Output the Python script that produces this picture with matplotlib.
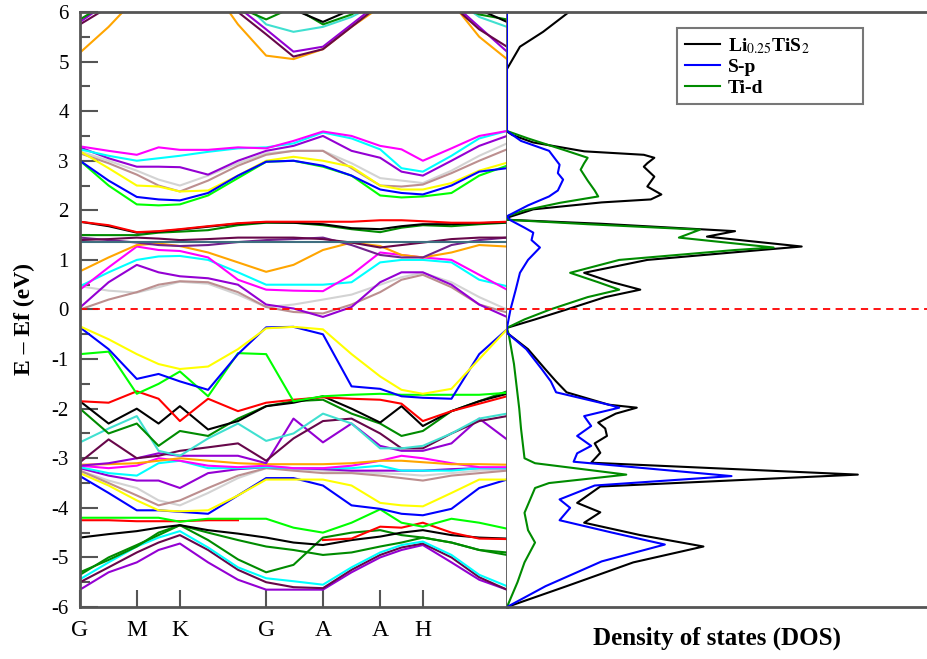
import numpy as np
import matplotlib
matplotlib.use("Agg")
import matplotlib.pyplot as plt

plt.rcParams['font.family'] = ['Liberation Serif', 'DejaVu Serif']
plt.rcParams['mathtext.fontset'] = 'stix'

# k-path sample positions (fraction of path) and high-symmetry labels
kpath = [0.0, 0.067, 0.133, 0.184, 0.234, 0.30, 0.37, 0.436, 0.50, 0.569,
         0.636, 0.703, 0.753, 0.803, 0.87, 0.935, 1.0]
hs_pos = [0.0, 0.133, 0.234, 0.436, 0.569, 0.703, 0.803]
hs_lab = ['G', 'M', 'K', 'G', 'A', 'A', 'H']

# upper conduction bands
up_orange = [5.18, 5.7, 6.3, 6.6, 6.8, 6.6, 5.75, 5.12, 5.05, 5.25, 5.7, 6.1, 6.5, 6.7, 6.2, 5.5, 5.05]
up_violet = [5.8, 6.2, 6.5, 6.8, 6.8, 6.5, 6.1, 5.65, 5.2, 5.3, 5.75, 6.2, 6.6, 6.7, 6.2, 5.7, 5.2]
up_maroon = [5.75, 6.1, 6.4, 6.7, 6.7, 6.4, 6.0, 5.55, 5.1, 5.25, 5.7, 6.15, 6.5, 6.6, 6.15, 5.65, 5.3]
up_turq = [6.2, 6.5, 6.8, 7.0, 7.0, 6.8, 6.3, 5.75, 5.6, 5.7, 5.9, 6.2, 6.6, 6.7, 6.3, 5.9, 5.7]
up_dkgreen = [5.85, 6.2, 6.5, 6.8, 6.8, 6.5, 6.1, 5.85, 6.1, 5.75, 5.95, 6.3, 6.6, 6.7, 6.2, 5.95, 5.85]
up_black = [6.3, 6.6, 6.9, 7.0, 7.0, 6.9, 6.6, 6.3, 6.05, 5.8, 6.05, 6.4, 6.7, 6.8, 6.4, 6.05, 5.8]

# conduction bands 2-3.6 eV
cb_magenta = [3.29, 3.2, 3.12, 3.27, 3.22, 3.22, 3.27, 3.25, 3.4, 3.59, 3.5, 3.3, 3.23, 3.0, 3.25, 3.5, 3.6]
cb_cyan = [3.23, 3.1, 3.0, 3.05, 3.1, 3.18, 3.25, 3.27, 3.35, 3.57, 3.45, 3.23, 2.85, 2.78, 3.1, 3.45, 3.6]
cb_violet = [3.27, 3.05, 2.88, 2.88, 2.87, 2.72, 3.0, 3.2, 3.3, 3.5, 3.2, 3.06, 2.78, 2.7, 3.0, 3.3, 3.5]
cb_grey = [3.19, 3.0, 2.8, 2.62, 2.5, 2.7, 2.95, 3.15, 3.2, 3.2, 2.95, 2.65, 2.6, 2.55, 2.8, 3.1, 3.35]
cb_brown = [3.15, 2.95, 2.72, 2.5, 2.38, 2.6, 2.9, 3.12, 3.2, 3.2, 2.85, 2.5, 2.48, 2.52, 2.75, 3.0, 3.23]
cb_yellow = [3.19, 2.85, 2.5, 2.48, 2.38, 2.4, 2.7, 3.0, 3.08, 3.0, 2.88, 2.5, 2.42, 2.42, 2.55, 2.8, 2.96]
cb_blue = [3.0, 2.6, 2.27, 2.22, 2.2, 2.35, 2.7, 2.98, 3.0, 2.9, 2.7, 2.42, 2.35, 2.32, 2.5, 2.78, 2.85]
cb_green = [3.0, 2.5, 2.12, 2.1, 2.12, 2.3, 2.65, 2.98, 3.0, 2.88, 2.7, 2.3, 2.26, 2.28, 2.35, 2.7, 2.9]

# bands around 0-1.8 eV
mb_red = [1.77, 1.7, 1.56, 1.58, 1.62, 1.68, 1.74, 1.77, 1.77, 1.77, 1.77, 1.8, 1.8, 1.78, 1.75, 1.75, 1.77]
mb_black = [1.77, 1.68, 1.55, 1.57, 1.61, 1.67, 1.73, 1.76, 1.75, 1.72, 1.64, 1.62, 1.68, 1.72, 1.72, 1.74, 1.76]
mb_dkgreen = [1.5, 1.5, 1.5, 1.55, 1.57, 1.6, 1.7, 1.75, 1.75, 1.7, 1.62, 1.56, 1.65, 1.7, 1.68, 1.72, 1.75]
mb_slate = [1.37] * 17
mb_maroon = [1.4, 1.42, 1.45, 1.43, 1.4, 1.42, 1.45, 1.45, 1.45, 1.42, 1.35, 1.25, 1.3, 1.35, 1.42, 1.45, 1.45]
mb_indigo = [1.45, 1.4, 1.35, 1.3, 1.28, 1.3, 1.36, 1.4, 1.42, 1.45, 1.3, 1.1, 1.05, 1.05, 1.3, 1.4, 1.45]
mb_orange = [0.77, 1.05, 1.3, 1.33, 1.28, 1.15, 0.95, 0.76, 0.9, 1.2, 1.35, 1.28, 1.1, 1.05, 1.15, 1.3, 1.27]
mb_magenta = [0.4, 0.85, 1.27, 1.2, 1.18, 1.05, 0.6, 0.4, 0.38, 0.37, 0.7, 1.15, 1.1, 1.05, 1.0, 0.7, 0.4]
mb_cyan = [0.47, 0.75, 1.0, 1.07, 1.08, 1.0, 0.75, 0.5, 0.5, 0.5, 0.55, 0.95, 1.0, 1.0, 0.95, 0.6, 0.47]
mb_violet = [0.04, 0.55, 0.9, 0.75, 0.67, 0.63, 0.5, 0.1, 0.02, -0.15, 0.05, 0.55, 0.75, 0.75, 0.5, 0.1, -0.15]
mb_brown = [0.0, 0.2, 0.35, 0.5, 0.57, 0.55, 0.35, 0.05, -0.05, -0.08, 0.1, 0.35, 0.6, 0.7, 0.45, 0.1, -0.06]
mb_grey = [0.47, 0.38, 0.34, 0.45, 0.56, 0.52, 0.3, 0.05, 0.1, 0.2, 0.3, 0.5, 0.65, 0.74, 0.55, 0.25, 0.0]

# valence bands
vb_yellow = [-0.34, -0.6, -0.9, -1.1, -1.2, -1.15, -0.8, -0.38, -0.35, -0.4, -0.9, -1.35, -1.62, -1.7, -1.6, -1.0, -0.4]
vb_blue = [-0.36, -0.8, -1.4, -1.3, -1.45, -1.62, -0.9, -0.36, -0.35, -0.5, -1.55, -1.6, -1.75, -1.78, -1.8, -0.9, -0.4]
vb_green = [-0.9, -0.85, -1.7, -1.5, -1.25, -1.75, -0.88, -0.9, -1.85, -1.75, -1.72, -1.7, -1.72, -1.72, -1.72, -1.72, -1.68]
vb_red = [-1.85, -1.88, -1.65, -1.8, -2.25, -1.8, -2.05, -1.88, -1.82, -1.77, -1.8, -1.82, -1.9, -2.25, -2.05, -1.9, -1.75]
vb_black = [-1.85, -2.3, -2.0, -2.3, -1.95, -2.42, -2.25, -1.95, -1.88, -1.75, -2.0, -2.28, -1.95, -2.35, -2.05, -1.85, -1.7]
vb_dkgreen = [-2.0, -2.5, -2.3, -2.75, -2.45, -2.55, -2.2, -1.95, -1.85, -1.82, -2.1, -2.3, -2.55, -2.45, -2.05, -1.85, -1.65]
vb_cyan = [-2.68, -2.4, -2.15, -2.85, -2.95, -2.6, -2.3, -2.65, -2.5, -2.1, -2.3, -2.8, -2.8, -2.75, -2.5, -2.2, -2.1]
vb_maroon = [-3.08, -2.62, -3.0, -2.95, -2.85, -2.78, -2.7, -3.05, -2.6, -2.25, -2.2, -2.5, -2.8, -2.8, -2.5, -2.25, -2.15]
vb_violet = [-3.15, -3.1, -3.0, -2.9, -2.95, -2.95, -2.95, -3.1, -2.2, -2.68, -2.3, -2.75, -2.85, -2.85, -2.7, -2.2, -2.62]
vb_orange = [-3.13, -3.12, -3.1, -3.05, -3.0, -3.05, -3.1, -3.12, -3.12, -3.12, -3.1, -3.05, -3.05, -3.08, -3.12, -3.12, -3.13]
vb_magenta = [-3.15, -3.2, -3.15, -3.0, -3.05, -3.15, -3.18, -3.15, -3.2, -3.2, -3.15, -3.05, -2.95, -3.0, -3.1, -3.18, -3.18]
vb_cyan2 = [-3.18, -3.3, -3.35, -3.1, -3.05, -3.2, -3.2, -3.18, -3.2, -3.2, -3.2, -3.15, -3.25, -3.25, -3.25, -3.2, -3.2]
vb_brown = [-3.25, -3.5, -3.75, -3.95, -3.85, -3.6, -3.35, -3.2, -3.25, -3.3, -3.3, -3.35, -3.4, -3.45, -3.35, -3.3, -3.25]
vb_grey = [-3.25, -3.45, -3.6, -3.85, -3.95, -3.7, -3.4, -3.2, -3.22, -3.25, -3.28, -3.3, -3.32, -3.35, -3.3, -3.25, -3.22]
vb_violet2 = [-3.2, -3.35, -3.45, -3.45, -3.6, -3.3, -3.22, -3.18, -3.2, -3.22, -3.25, -3.25, -3.25, -3.25, -3.22, -3.2, -3.2]
vb_yellow2 = [-3.3, -3.55, -3.85, -4.05, -4.07, -4.05, -3.75, -3.43, -3.43, -3.43, -3.55, -3.9, -3.95, -3.97, -3.7, -3.43, -3.43]
vb_blue2 = [-3.36, -3.7, -4.05, -4.05, -4.08, -4.12, -3.75, -3.4, -3.4, -3.55, -3.95, -4.02, -4.12, -4.15, -4.02, -3.6, -3.43]
vb_green2 = [-4.2, -4.2, -4.2, -4.2, -4.28, -4.22, -4.22, -4.22, -4.4, -4.5, -4.3, -4.03, -4.3, -4.38, -4.22, -4.3, -4.42]
vb_red2 = [-4.25, -4.25, -4.27, -4.27, -4.27, -4.25, -4.25, np.nan, np.nan, -4.65, -4.62, -4.38, -4.4, -4.3, -4.5, -4.62, -4.63]
vb_black2 = [-4.6, -4.53, -4.47, -4.4, -4.35, -4.45, -4.52, -4.6, -4.7, -4.75, -4.65, -4.58, -4.5, -4.45, -4.55, -4.6, -4.62]
vb_dkgreen2 = [-5.3, -5.05, -4.78, -4.5, -4.35, -4.65, -5.04, -5.3, -5.15, -4.6, -4.5, -4.45, -4.55, -4.6, -4.7, -4.85, -4.9]
vb_dkgreen3 = [-5.35, -5.0, -4.75, -4.55, -4.35, -4.5, -4.65, -4.78, -4.85, -4.95, -4.9, -4.78, -4.7, -4.6, -4.7, -4.85, -4.95]
vb_cyan3 = [-5.44, -5.1, -4.78, -4.6, -4.47, -4.8, -5.2, -5.42, -5.48, -5.55, -5.2, -4.9, -4.75, -4.68, -4.95, -5.35, -5.58]
vb_maroon2 = [-5.5, -5.2, -4.9, -4.7, -4.55, -4.85, -5.25, -5.5, -5.6, -5.62, -5.25, -4.95, -4.8, -4.72, -5.0, -5.4, -5.65]
vb_violet3 = [-5.65, -5.3, -5.1, -4.85, -4.72, -5.1, -5.45, -5.65, -5.65, -5.65, -5.3, -5.0, -4.85, -4.75, -5.1, -5.45, -5.65]

# DOS curves: energy (eV) and DOS value (arb. units)
tot_e = [6.05, 5.6, 5.3, 4.85, 3.59, 3.52, 3.37, 3.19, 3.12, 3.06, 2.95, 2.88, 2.68, 2.48, 2.32, 2.22, 2.16,
         2.02, 1.85, 1.81, 1.73, 1.58, 1.47, 1.27, 1.21, 1.0, 0.74, 0.55, 0.40, 0.25, 0.0, -0.2, -0.37,
         -0.47, -0.8, -1.21, -1.45, -1.67, -1.92, -1.98, -2.1, -2.28, -2.4, -2.55, -2.7, -2.89, -3.09,
         -3.33, -3.57, -3.9, -4.09, -4.3, -4.55, -4.78, -5.1, -5.58, -6.0]
tot_d = [1.86, 1.03, 0.37, 0.0, 0.0, 0.15, 0.74, 2.2, 3.9, 4.2, 4.0, 3.9, 4.2, 4.0, 4.4, 4.1, 2.7,
         0.75, 0.0, 0.0, 2.66, 6.5, 5.7, 8.4, 7.4, 4.0, 2.2, 3.0, 3.8, 2.8, 1.7, 0.8, 0.0,
         0.0, 0.6, 1.1, 1.4, 1.7, 2.9, 3.7, 3.1, 2.6, 2.8, 2.85, 2.5, 2.66, 2.4,
         10.0, 2.66, 2.0, 2.66, 2.2, 3.8, 5.6, 3.6, 1.7, 0.0]
sp_e = [6.0, 3.6, 3.4, 3.2, 2.92, 2.75, 2.62, 2.4, 2.28, 2.1, 1.88, 1.8, 1.65, 1.55, 1.4, 1.25, 1.0,
        0.74, 0.4, 0.0, -0.37, -0.47, -0.8, -1.21, -1.45, -1.67, -1.92, -1.98, -2.15, -2.35, -2.55,
        -2.75, -2.9, -3.07, -3.36, -3.55, -3.83, -4.0, -4.25, -4.5, -4.74, -5.08, -5.58, -6.0]
sp_d = [0.0, 0.0, 0.4, 1.2, 1.5, 1.45, 1.6, 1.45, 1.2, 0.6, 0.0, 0.1, 0.5, 0.75, 0.7, 0.94, 0.6,
        0.37, 0.25, 0.1, 0.0, 0.0, 0.55, 1.0, 1.25, 1.4, 2.9, 3.2, 2.2, 2.4, 2.0,
        2.4, 2.0, 1.9, 6.4, 2.5, 1.5, 1.8, 1.5, 3.0, 4.5, 2.7, 1.1, 0.0]
tid_e = [6.0, 3.6, 3.45, 3.2, 3.06, 2.95, 2.82, 2.6, 2.4, 2.28, 2.15, 2.0, 1.88, 1.81, 1.72, 1.61,
         1.45, 1.25, 1.2, 1.0, 0.74, 0.55, 0.40, 0.25, 0.0, -0.2, -0.37, -0.5, -1.1, -2.0, -2.4,
         -3.0, -3.1, -3.33, -3.5, -3.6, -4.1, -4.45, -4.7, -5.1, -5.5, -6.0]
tid_d = [0.0, 0.0, 0.6, 1.7, 2.3, 2.2, 2.1, 2.3, 2.5, 2.6, 1.5, 0.5, 0.0, 0.0, 2.3, 5.5,
         4.9, 7.6, 6.5, 3.2, 1.8, 2.6, 3.2, 2.3, 1.23, 0.5, 0.0, 0.05, 0.2, 0.35, 0.4,
         0.5, 0.8, 3.4, 1.2, 0.8, 0.5, 0.6, 0.8, 0.5, 0.3, 0.0]

bands = [
    (up_orange, '#ffa500'), (up_violet, '#9400d3'), (up_maroon, '#67074a'), (up_turq, '#40e0d0'),
    (up_dkgreen, '#008b00'), (up_black, 'black'),
    (cb_grey, '#d3d3d3'), (cb_brown, '#bc8f8f'), (cb_yellow, '#ffff00'), (cb_green, '#00ff00'),
    (cb_blue, '#0000ff'), (cb_violet, '#9400d3'), (cb_cyan, '#00ffff'), (cb_magenta, '#ff00ff'),
    (mb_grey, '#d3d3d3'), (mb_brown, '#bc8f8f'), (mb_violet, '#9400d3'), (mb_cyan, '#00ffff'),
    (mb_magenta, '#ff00ff'), (mb_orange, '#ffa500'), (mb_indigo, '#72218c'), (mb_maroon, '#67074a'),
    (mb_slate, '#3f6f80'), (mb_dkgreen, '#008b00'), (mb_black, 'black'), (mb_red, '#ff0000'),
    (vb_violet3, '#9400d3'), (vb_maroon2, '#67074a'), (vb_cyan3, '#00ffff'), (vb_dkgreen3, '#008b00'),
    (vb_dkgreen2, '#008b00'), (vb_black2, 'black'), (vb_red2, '#ff0000'), (vb_green2, '#00ff00'),
    (vb_blue2, '#0000ff'), (vb_yellow2, '#ffff00'), (vb_grey, '#d3d3d3'), (vb_brown, '#bc8f8f'),
    (vb_violet2, '#9400d3'), (vb_cyan2, '#00ffff'), (vb_magenta, '#ff00ff'), (vb_orange, '#ffa500'),
    (vb_violet, '#9400d3'), (vb_maroon, '#67074a'), (vb_cyan, '#40e0d0'), (vb_dkgreen, '#008b00'),
    (vb_black, 'black'), (vb_red, '#ff0000'), (vb_green, '#00ff00'), (vb_blue, '#0000ff'),
    (vb_yellow, '#ffff00'),
]

fig = plt.figure(figsize=(9.28, 6.59), dpi=100)
ax = fig.add_axes([0.0862, 0.0789, 0.4601, 0.9029])
ax2 = fig.add_axes([0.5463, 0.0789, 0.4537, 0.9029])

for vals, col in bands:
    ax.plot(kpath, vals, color=col, lw=1.5)

ax.axhline(0, color='red', ls=(0, (4, 3)), lw=1.3)
ax.set_xlim(0, 1)
ax.set_ylim(-6, 6)
ax.set_yticks(range(-6, 7))
ax.set_yticklabels([str(v) for v in range(-6, 7)], fontsize=15)
ax.set_yticks(np.arange(-5.5, 6, 1.0), minor=True)
ax.set_xticks(hs_pos)
ax.set_xticklabels(hs_lab, fontsize=17)
ax.tick_params(axis='y', which='major', direction='in', length=13, width=1.5, color='#555555', pad=8)
ax.tick_params(axis='y', which='minor', direction='in', length=7, width=1.5, color='#555555')
ax.tick_params(axis='x', direction='in', length=12, width=1.5, color='#555555', pad=9)
ax.set_ylabel('E – Ef (eV)', fontsize=17, fontweight='bold')
ax.yaxis.set_label_coords(-0.105, 0.484)
for s in ax.spines.values():
    s.set_color('#555555')
    s.set_linewidth(2)

ax2.plot(tot_d, tot_e, color='black', lw=1.5, label='Li$_{0.25}$TiS$_2$')
ax2.plot(tid_d, tid_e, color='#008b00', lw=1.5, label='Ti-d')
ax2.plot(sp_d, sp_e, color='#0000ff', lw=1.5, label='S-p')
ax2.axhline(0, color='red', ls=(0, (4, 3)), lw=1.3)
ax2.set_xlim(0, 12)
ax2.set_ylim(-6, 6)
ax2.set_xticks([])
ax2.set_yticks([])
ax2.spines['right'].set_visible(False)
ax2.spines['left'].set_visible(False)
for s in ['top', 'bottom']:
    ax2.spines[s].set_color('#555555')
    ax2.spines[s].set_linewidth(2)
ax2.set_xlabel('Density of states (DOS)', fontsize=18, fontweight='bold', labelpad=14)

h, l = ax2.get_legend_handles_labels()
order = [0, 2, 1]
leg = ax2.legend([h[i] for i in order], [l[i] for i in order], loc='upper left',
                 bbox_to_anchor=(0.404, 0.84, 0.442, 0.133), mode='expand',
                 borderaxespad=0, fancybox=False, edgecolor='#555555',
                 handlelength=1.8, handletextpad=0.4, labelspacing=0.15,
                 prop={'weight': 'bold', 'size': 14})
leg.get_frame().set_linewidth(1.5)

fig.savefig('out.png', dpi=100)
